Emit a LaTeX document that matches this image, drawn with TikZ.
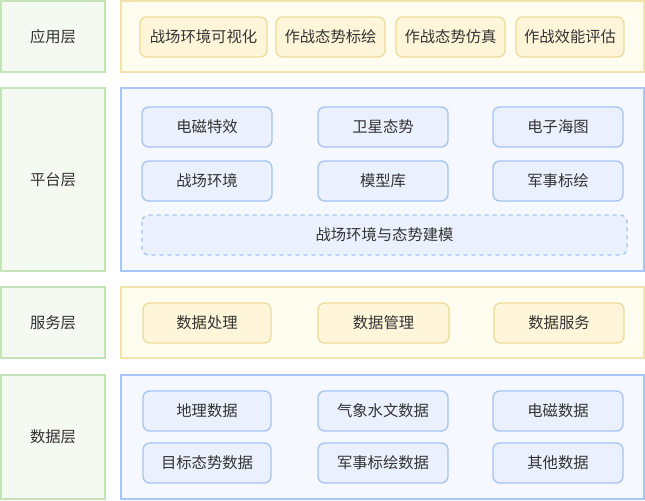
\documentclass[tikz,border=0pt]{standalone}
\usepackage{fontspec}
\setmainfont{Noto Sans CJK SC}
\begin{document}
\begin{tikzpicture}[x=0.75pt,y=-0.75pt,
 lay/.style={draw=green!30!gray!40!white,draw=lgb,fill=lgf,line width=1.2pt},
 ypan/.style={draw=ypb,fill=ypf,line width=1.2pt},
 bpan/.style={draw=bpb,fill=bpf,line width=1.2pt},
 yit/.style={draw=yib,fill=yif,line width=1pt,rounded corners=5pt},
 bit/.style={draw=bib,fill=bif,line width=1pt,rounded corners=5pt},
 txt/.style={font=\fontsize{11.5pt}{13pt}\selectfont,text=tc}]
\definecolor{lgb}{HTML}{C6E2B8}\definecolor{lgf}{HTML}{F4F9F1}
\definecolor{ypb}{HTML}{F2E4AC}\definecolor{ypf}{HTML}{FFFCF0}
\definecolor{yib}{HTML}{EEDC9A}\definecolor{yif}{HTML}{FFF6DA}
\definecolor{bpb}{HTML}{A9C6FA}\definecolor{bpf}{HTML}{F5F8FF}
\definecolor{bib}{HTML}{A6C3F5}\definecolor{bif}{HTML}{EAF0FD}
\definecolor{tc}{HTML}{333333}
\useasboundingbox (0,0) rectangle (645,500);
\newcommand\bx[6]{\draw[#1] (#2,#3) rectangle (#4,#5); \node[txt] (n#2x#3) at ({(#2+#4)/2},{(#3+#5)/2}) {#6};}
\bx{lay}{1}{1}{105}{72}{应用层}
\bx{lay}{1}{88}{105}{271}{平台层}
\bx{lay}{1}{287}{105}{358}{服务层}
\bx{lay}{1}{375}{105}{499}{数据层}
\bx{ypan}{121}{1}{644}{72}{}
\bx{bpan}{121}{88}{644}{271}{}
\bx{ypan}{121}{287}{644}{358}{}
\bx{bpan}{121}{375}{644}{499}{}
\bx{yit}{140}{17}{267}{57}{战场环境可视化}
\bx{yit}{276}{17}{385}{57}{作战态势标绘}
\bx{yit}{396}{17}{505}{57}{作战态势仿真}
\bx{yit}{516}{17}{624}{57}{作战效能评估}
\bx{bit}{142}{107}{272}{147}{电磁特效}
\bx{bit}{318}{107}{448}{147}{卫星态势}
\bx{bit}{493}{107}{623}{147}{电子海图}
\bx{bit}{142}{161}{272}{201}{战场环境}
\bx{bit}{318}{161}{448}{201}{模型库}
\bx{bit}{493}{161}{623}{201}{军事标绘}
\bx{bit,dashed}{142}{215}{627}{255}{战场环境与态势建模}
\bx{yit}{143}{303}{271}{343}{数据处理}
\bx{yit}{318}{303}{449}{343}{数据管理}
\bx{yit}{494}{303}{624}{343}{数据服务}
\bx{bit}{143}{391}{271}{431}{地理数据}
\bx{bit}{318}{391}{448}{431}{气象水文数据}
\bx{bit}{493}{391}{623}{431}{电磁数据}
\bx{bit}{143}{443}{271}{483}{目标态势数据}
\bx{bit}{318}{443}{448}{483}{军事标绘数据}
\bx{bit}{493}{443}{623}{483}{其他数据}
\end{tikzpicture}
\end{document}
